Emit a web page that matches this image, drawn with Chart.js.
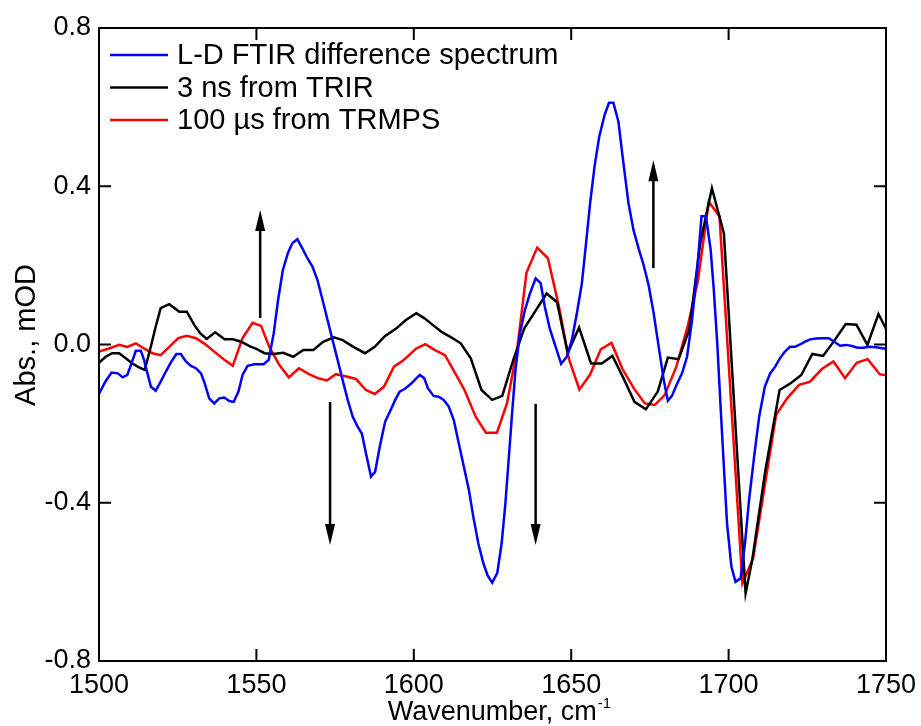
<!DOCTYPE html>
<html>
<head>
<meta charset="utf-8">
<script src="https://cdn.jsdelivr.net/npm/chart.js@4/dist/chart.umd.min.js"></script>
<style>
  html, body { margin: 0; padding: 0; background: #fff; }
  #wrap { width: 921px; height: 726px; }
</style>
</head>
<body>
<div id="wrap"><canvas id="spectra"></canvas></div>
<script>
// wavenumbers (cm-1) and absorbance (mOD)
const blueWn = [1500, 1502, 1504, 1506, 1507.5, 1509, 1510.3, 1511.7, 1513.3, 1514.3, 1515.4, 1516.5, 1518, 1519.6, 1521.2, 1523, 1524.6, 1526, 1527.6, 1529.2, 1530.8, 1532.4, 1533.4, 1535, 1536.6, 1538.2, 1539.8, 1541.4, 1542.8, 1544.3, 1545.6, 1547.2, 1549.4, 1552.3, 1553.9, 1555.5, 1556.9, 1558.4, 1560, 1561.4, 1563, 1564.6, 1566.2, 1567.8, 1569.4, 1571, 1572.6, 1574.2, 1575.8, 1577.4, 1579, 1580.6, 1582.2, 1583.5, 1584.8, 1586.4, 1587.7, 1589.2, 1590.9, 1592.4, 1594.1, 1595.5, 1597.2, 1599, 1601.9, 1603.3, 1604.5, 1606.3, 1607.9, 1609.5, 1611.1, 1612.7, 1614.3, 1615.9, 1617.5, 1618.9, 1620.5, 1622.1, 1623.4, 1624.9, 1626.5, 1627.9, 1629.1, 1630.2, 1631.3, 1632.3, 1633.7, 1635.3, 1636.9, 1638.7, 1640.3, 1641.6, 1643.2, 1645.4, 1646.8, 1648.6, 1650.2, 1651.8, 1653.4, 1654.6, 1656, 1657.4, 1658.9, 1660.6, 1662, 1663.4, 1665, 1666.6, 1668.2, 1669.8, 1671.4, 1673, 1674.6, 1676.2, 1677.8, 1679.4, 1680.7, 1682, 1683.6, 1685.2, 1686.8, 1688.4, 1690, 1691.4, 1692.8, 1694.3, 1695.3, 1696.4, 1697.4, 1698.5, 1699.5, 1700.9, 1702.2, 1703.8, 1705.2, 1706.5, 1708.1, 1709.7, 1711.5, 1713.2, 1714.8, 1716.3, 1717.9, 1719.5, 1721.1, 1722.7, 1724.3, 1725.9, 1727.8, 1729.9, 1731.8, 1733.6, 1735.4, 1737.3, 1739.1, 1741, 1742.8, 1744.7, 1746.8, 1749.4, 1750];
const blueAbs = [-0.125, -0.094, -0.071, -0.073, -0.083, -0.077, -0.048, -0.016, -0.016, -0.039, -0.073, -0.107, -0.117, -0.094, -0.069, -0.043, -0.024, -0.024, -0.043, -0.054, -0.060, -0.073, -0.094, -0.136, -0.149, -0.136, -0.134, -0.143, -0.145, -0.119, -0.077, -0.054, -0.050, -0.050, -0.039, 0.028, 0.113, 0.188, 0.231, 0.256, 0.266, 0.243, 0.218, 0.197, 0.163, 0.113, 0.062, 0.011, -0.039, -0.090, -0.140, -0.183, -0.208, -0.225, -0.275, -0.334, -0.322, -0.258, -0.195, -0.170, -0.140, -0.119, -0.112, -0.100, -0.077, -0.085, -0.111, -0.130, -0.132, -0.140, -0.157, -0.191, -0.250, -0.309, -0.368, -0.435, -0.503, -0.553, -0.583, -0.602, -0.578, -0.503, -0.401, -0.284, -0.166, -0.064, 0.028, 0.087, 0.129, 0.167, 0.155, 0.096, 0.040, -0.014, -0.049, -0.031, 0.011, 0.079, 0.155, 0.247, 0.357, 0.449, 0.525, 0.580, 0.611, 0.611, 0.563, 0.458, 0.357, 0.289, 0.243, 0.201, 0.150, 0.079, -0.006, -0.090, -0.142, -0.130, -0.100, -0.073, -0.031, 0.062, 0.188, 0.324, 0.324, 0.239, 0.138, 0.003, -0.149, -0.309, -0.452, -0.562, -0.600, -0.591, -0.503, -0.393, -0.284, -0.183, -0.107, -0.073, -0.056, -0.035, -0.018, -0.006, -0.006, 0.000, 0.007, 0.013, 0.015, 0.016, 0.016, 0.007, -0.003, -0.001, -0.004, -0.008, -0.008, -0.006, -0.007, -0.010, -0.012];

const blackWn = [1500, 1502.1, 1504.2, 1506.4, 1508.5, 1510.6, 1512.7, 1514.5, 1516.2, 1518, 1519.6, 1522.3, 1525.5, 1527.9, 1530.3, 1532.2, 1534.2, 1536.9, 1539.9, 1542.5, 1545.2, 1547.8, 1550, 1552.6, 1555.3, 1558.5, 1561.7, 1564.9, 1568.1, 1571.2, 1574.6, 1577.4, 1580.8, 1584.5, 1587.6, 1590.8, 1594.5, 1597.5, 1600.8, 1603.4, 1606.1, 1608.8, 1611.9, 1614.9, 1618.1, 1621.5, 1624.9, 1628.1, 1631.6, 1635.1, 1638.5, 1642.2, 1645.5, 1648.9, 1652.5, 1656.3, 1659.7, 1663.1, 1666.6, 1670.1, 1673.7, 1677.5, 1680.7, 1684.1, 1687.5, 1691, 1694.7, 1698.5, 1705.4, 1707.5, 1711.7, 1716.2, 1719.7, 1723.1, 1726.6, 1730, 1733.7, 1737.2, 1740.6, 1744.1, 1747.6, 1750];
const blackAbs = [-0.046, -0.031, -0.022, -0.022, -0.035, -0.048, -0.058, -0.064, -0.014, 0.045, 0.092, 0.102, 0.083, 0.083, 0.049, 0.028, 0.014, 0.031, 0.013, 0.013, 0.007, -0.004, -0.011, -0.022, -0.024, -0.021, -0.031, -0.014, -0.014, 0.007, 0.018, 0.011, -0.006, -0.022, -0.006, 0.021, 0.041, 0.062, 0.079, 0.066, 0.049, 0.032, 0.018, 0.003, -0.035, -0.115, -0.140, -0.130, -0.039, 0.041, 0.083, 0.129, 0.107, -0.022, 0.043, -0.048, -0.048, -0.029, -0.085, -0.145, -0.164, -0.119, -0.033, -0.037, 0.037, 0.256, 0.395, 0.281, -0.629, -0.545, -0.317, -0.115, -0.098, -0.077, -0.024, -0.029, 0.011, 0.052, 0.050, -0.001, 0.077, 0.040];

const redWn = [1500, 1503.2, 1506.4, 1509, 1511.7, 1514.3, 1517, 1519.6, 1522.3, 1525.2, 1527.9, 1530.8, 1533.7, 1536.6, 1539.6, 1542.5, 1545.6, 1548.8, 1551.5, 1554.1, 1557.3, 1560.3, 1563.5, 1566.7, 1569.5, 1572.4, 1575.2, 1578.6, 1581.6, 1584.8, 1587.6, 1590.5, 1593.7, 1596.5, 1598.5, 1600.8, 1603.7, 1606.7, 1609.9, 1612.9, 1616.1, 1619.7, 1622.9, 1626.4, 1629.6, 1632.8, 1635.8, 1639.2, 1642.6, 1646.1, 1649.3, 1652.6, 1656, 1659.4, 1662.8, 1666.3, 1669.9, 1673.4, 1676.5, 1679.7, 1683.4, 1687.1, 1690.3, 1693.7, 1697.1, 1704.4, 1707.8, 1711.6, 1715.1, 1718.6, 1722.4, 1725.9, 1729.6, 1733.3, 1737, 1740.7, 1744.2, 1748, 1750];
const redAbs = [-0.018, -0.010, -0.001, -0.006, 0.003, -0.010, -0.022, -0.027, -0.006, 0.016, 0.022, 0.016, 0.001, -0.018, -0.037, -0.054, 0.016, 0.055, 0.047, -0.006, -0.052, -0.083, -0.060, -0.075, -0.085, -0.091, -0.075, -0.081, -0.087, -0.115, -0.125, -0.107, -0.056, -0.041, -0.027, -0.010, 0.001, -0.014, -0.027, -0.069, -0.115, -0.183, -0.223, -0.223, -0.149, -0.014, 0.182, 0.245, 0.218, 0.096, -0.037, -0.114, -0.076, -0.012, 0.004, -0.062, -0.111, -0.149, -0.153, -0.128, -0.056, 0.049, 0.163, 0.361, 0.324, -0.604, -0.540, -0.351, -0.178, -0.136, -0.102, -0.094, -0.062, -0.043, -0.085, -0.046, -0.037, -0.075, -0.078];

const seriesNames = ["L-D FTIR difference spectrum", "3 ns from TRIR", "100 \u00b5s from TRMPS"];
const seriesColors = ["#0000ff", "#000000", "#ff0000"];

const xTicks = [1500, 1550, 1600, 1650, 1700, 1750];
const yTicks = [-0.8, -0.4, 0.0, 0.4, 0.8];

// arrows: [wavenumber, from, to]
const arrows = [
  [1551.2, 0.067, 0.340],
  [1573.4, -0.145, -0.507],
  [1638.7, -0.150, -0.507],
  [1676.1, 0.193, 0.466],
];

const FONT = "'Liberation Sans', Arial, sans-serif";

function pts(xs, ys) {
  return xs.map((x, i) => ({ x: x, y: ys[i] }));
}

// frame, inward ticks, legend, arrows and axis titles
const decor = {
  id: "decor",
  afterDatasetsDraw(chart) {
    const ctx = chart.ctx;
    const a = chart.chartArea;
    const xs = chart.scales.x;
    const ys = chart.scales.y;
    ctx.save();

    // arrows
    ctx.strokeStyle = "#000";
    ctx.fillStyle = "#000";
    ctx.lineWidth = 2.5;
    arrows.forEach((ar) => {
      const px = xs.getPixelForValue(ar[0]);
      const y0 = ys.getPixelForValue(ar[1]);
      const y1 = ys.getPixelForValue(ar[2]);
      const dir = y1 < y0 ? 1 : -1;
      ctx.beginPath();
      ctx.moveTo(px, y0);
      ctx.lineTo(px, y1 + dir * 18);
      ctx.stroke();
      ctx.beginPath();
      ctx.moveTo(px, y1);
      ctx.lineTo(px - 5, y1 + dir * 21);
      ctx.lineTo(px + 5, y1 + dir * 21);
      ctx.closePath();
      ctx.fill();
    });

    // frame
    ctx.lineWidth = 2;
    ctx.strokeRect(a.left, a.top, a.right - a.left, a.bottom - a.top);

    // ticks pointing in
    const tl = 12;
    ctx.beginPath();
    xTicks.slice(1, -1).forEach((v) => {
      const px = xs.getPixelForValue(v);
      ctx.moveTo(px, a.bottom);
      ctx.lineTo(px, a.bottom - tl);
      ctx.moveTo(px, a.top);
      ctx.lineTo(px, a.top + tl);
    });
    yTicks.slice(1, -1).forEach((v) => {
      const py = ys.getPixelForValue(v);
      ctx.moveTo(a.left, py);
      ctx.lineTo(a.left + tl, py);
      ctx.moveTo(a.right, py);
      ctx.lineTo(a.right - tl, py);
    });
    ctx.stroke();

    // legend
    ctx.font = "29px " + FONT;
    ctx.textBaseline = "middle";
    ctx.textAlign = "left";
    chart.data.datasets.forEach((ds, i) => {
      const y = a.top + 27 + i * 32.5;
      ctx.strokeStyle = ds.borderColor;
      ctx.lineWidth = 2.5;
      ctx.beginPath();
      ctx.moveTo(a.left + 11, y);
      ctx.lineTo(a.left + 69, y);
      ctx.stroke();
      ctx.fillStyle = "#000";
      ctx.fillText(ds.label, a.left + 78, y + 1);
    });

    // x title with superscript
    ctx.fillStyle = "#000";
    ctx.textBaseline = "alphabetic";
    const main = "Wavenumber, cm";
    const sup = "-1";
    ctx.font = "27px " + FONT;
    const w1 = ctx.measureText(main).width;
    ctx.font = "15px " + FONT;
    const w2 = ctx.measureText(sup).width;
    const x0 = 499 - (w1 + w2) / 2;
    ctx.font = "27px " + FONT;
    ctx.fillText(main, x0, 720);
    ctx.font = "15px " + FONT;
    ctx.fillText(sup, x0 + w1 + 1, 708);

    // y title
    ctx.translate(27, 335);
    ctx.rotate(-Math.PI / 2);
    ctx.font = "29px " + FONT;
    ctx.textAlign = "center";
    ctx.textBaseline = "middle";
    ctx.fillText("Abs., mOD", 0, 0);

    ctx.restore();
  },
};

const config = {
  type: "line",
  data: {
    datasets: [
      { label: seriesNames[0], data: pts(blueWn, blueAbs), borderColor: seriesColors[0] },
      { label: seriesNames[1], data: pts(blackWn, blackAbs), borderColor: seriesColors[1] },
      { label: seriesNames[2], data: pts(redWn, redAbs), borderColor: seriesColors[2] },
    ].map((d) => Object.assign(d, { borderWidth: 2.5, pointRadius: 0, tension: 0, fill: false })),
  },
  options: {
    responsive: false,
    animation: false,
    layout: { padding: { top: 28, right: 35, bottom: 0, left: 0 } },
    plugins: { legend: { display: false }, tooltip: { enabled: false } },
    scales: {
      x: {
        type: "linear",
        min: 1500,
        max: 1750,
        afterBuildTicks: (s) => { s.ticks = xTicks.map((v) => ({ value: v })); },
        afterFit: (s) => {
          s.height = 65;
          s.paddingLeft = 0;
          s.paddingRight = 0;
        },
        grid: { display: false, drawTicks: false },
        border: { display: false },
        ticks: {
          color: "#000",
          padding: 8,
          maxRotation: 0,
          font: { size: 27, family: FONT },
          callback: (v) => String(v),
        },
      },
      y: {
        min: -0.8,
        max: 0.8,
        afterBuildTicks: (s) => { s.ticks = yTicks.map((v) => ({ value: v })); },
        afterFit: (s) => {
          s.width = 99;
          s.paddingTop = 0;
          s.paddingBottom = 0;
        },
        grid: { display: false, drawTicks: false },
        border: { display: false },
        ticks: {
          color: "#000",
          padding: 8,
          font: { size: 27, family: FONT },
          callback: (v) => v.toFixed(1),
        },
      },
    },
  },
  plugins: [decor],
};

const canvas = document.getElementById("spectra");
canvas.width = 921;
canvas.height = 726;
let myChart = new Chart(canvas, config);
</script>
</body>
</html>
